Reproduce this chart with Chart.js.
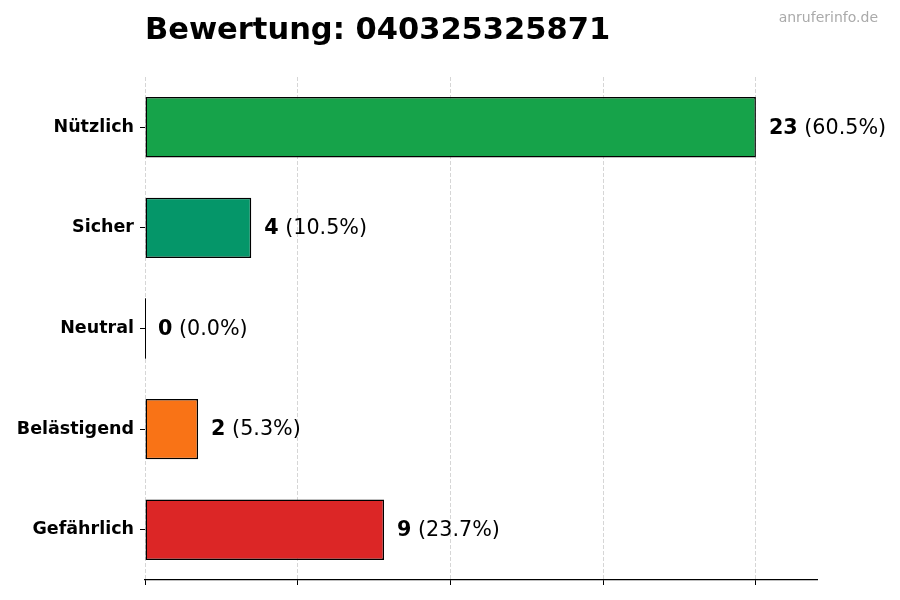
<!DOCTYPE html>
<html>
<head>
<meta charset="utf-8">
<script src="https://cdn.jsdelivr.net/npm/chart.js@4.4.1/dist/chart.umd.min.js"></script>
<style>
  html, body { margin: 0; padding: 0; background: #fff; }
  #wrap { position: relative; width: 900px; height: 600px; }
  #title { position: absolute; left: 145px; top: 14px; font: bold 30.5px "DejaVu Sans"; line-height: 1; color: #000; white-space: nowrap; }
  #mark { position: absolute; right: 22px; top: 10px; font: 14px "DejaVu Sans"; line-height: 1; color: #aaaaaa; white-space: nowrap; }
</style>
</head>
<body>
<div id="wrap">
  <canvas id="c" width="900" height="600"></canvas>
  <div id="title">Bewertung: 040325325871</div>
  <div id="mark">anruferinfo.de</div>
</div>
<script>
const categories = ["Nützlich", "Sicher", "Neutral", "Belästigend", "Gefährlich"];
const counts = [23, 4, 0, 2, 9];
const barColors = ["#16a34a", "#059669", "#6b7280", "#f97316", "#dc2626"];
const xTicks = [0, 5.75, 11.5, 17.25, 23];
const xMax = 25.3;

const total = counts.reduce((a, b) => a + b, 0);

const labelPlugin = {
  id: 'barLabels',
  afterDatasetsDraw(chart) {
    const ctx = chart.ctx;
    const meta = chart.getDatasetMeta(0);
    ctx.save();
    meta.data.forEach((el, i) => {
      const v = counts[i];
      if (v === 0) {
        ctx.strokeStyle = '#000';
        ctx.lineWidth = 1;
        ctx.beginPath();
        ctx.moveTo(Math.round(el.base) + 0.5, el.y - el.height / 2);
        ctx.lineTo(Math.round(el.base) + 0.5, el.y + el.height / 2);
        ctx.stroke();
      }
      const pct = ' (' + (v / total * 100).toFixed(1) + '%)';
      let x = el.x + 13;
      ctx.textBaseline = 'middle';
      ctx.textAlign = 'left';
      ctx.fillStyle = '#000';
      ctx.font = 'bold 20.7px "DejaVu Sans"';
      ctx.fillText(String(v), x, el.y + 1);
      x += ctx.measureText(String(v)).width;
      ctx.font = '20.7px "DejaVu Sans"';
      ctx.fillText(pct, x, el.y + 1);
    });
    ctx.restore();
  }
};

new Chart(document.getElementById('c'), {
  type: 'bar',
  data: {
    labels: categories,
    datasets: [{
      data: counts,
      backgroundColor: barColors,
      borderColor: '#000',
      borderWidth: 1.5,
      borderSkipped: false,
      barPercentage: 0.6,
      categoryPercentage: 1.0
    }]
  },
  options: {
    indexAxis: 'y',
    responsive: false,
    animation: false,
    devicePixelRatio: 1,
    layout: { padding: { top: 77, right: 83, left: 0, bottom: 0 } },
    plugins: { legend: { display: false }, tooltip: { enabled: false }, title: { display: false } },
    scales: {
      x: {
        type: 'linear',
        min: 0,
        max: xMax,
        afterBuildTicks(scale) { scale.ticks = xTicks.map(v => ({ value: v })); },
        afterFit(scale) { scale.height = 20; },
        ticks: { callback: () => '', padding: 0 },
        grid: { color: 'rgba(0,0,0,0.16)', lineWidth: 1, drawTicks: true, tickLength: 5, tickColor: '#000', tickWidth: 1 },
        border: { display: true, color: '#000', width: 1.2, dash: [4, 2] }
      },
      y: {
        afterFit(scale) { scale.width = 145; },
        ticks: { color: '#000', font: { family: 'DejaVu Sans', size: 17.5, weight: 'bold' }, padding: 6 },
        grid: { offset: false, drawOnChartArea: false, drawTicks: true, tickLength: 5, tickColor: '#000', tickWidth: 1 },
        border: { display: false }
      }
    }
  },
  plugins: [labelPlugin]
});
</script>
</body>
</html>
